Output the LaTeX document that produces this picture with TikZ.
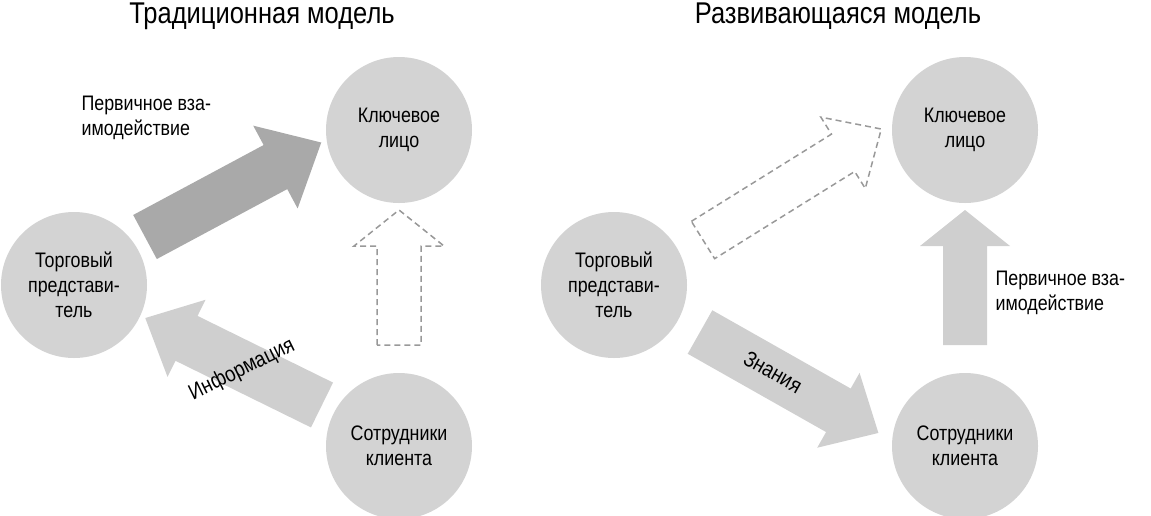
\documentclass[tikz,border=0pt]{standalone}
\usepackage{fontspec}
\setmainfont{Liberation Sans}[FakeStretch=0.85]
\definecolor{circ}{HTML}{D3D3D3}
\definecolor{dark}{HTML}{A9A9A9}
\definecolor{light}{HTML}{CFCFCF}
\tikzset{
  circ/.style={circle,fill=circ,minimum size=146pt,inner sep=0pt,align=center,font=\fontsize{21}{25}\selectfont},
  lbl/.style={align=left,anchor=west,font=\fontsize{21}{25}\selectfont},
  ttl/.style={font=\fontsize{30}{32}\selectfont},
  dsh/.style={draw=gray!80,dashed,line width=1.5pt,dash pattern=on 6pt off 4pt},
}
\newcommand\myarrow[7]{% origin, angle, length, shafthalf, headhalf, headlen, style
\begin{scope}[shift={(#1)},rotate=#2]
\path[#7] (0,-#4)--(#3-#6,-#4)--(#3-#6,-#5)--(#3,0)--(#3-#6,#5)--(#3-#6,#4)--(0,#4)--cycle;
\end{scope}}
\begin{document}
\begin{tikzpicture}[x=1pt,y=-1pt]
\useasboundingbox (0,0) rectangle (1151,515);
\node[ttl] (t1) at (262,16) {Традиционная модель};
\node[ttl] (t2) at (838,16) {Развивающаяся модель};
\node[circ] (k1) at (399,130) {Ключевое\\лицо};
\node[circ] (s1) at (74,285) {Торговый\\представи-\\тель};
\node[circ] (c1) at (399,446) {Сотрудники\\клиента};
\node[circ] (k2) at (965,130) {Ключевое\\лицо};
\node[circ] (s2) at (614,285) {Торговый\\представи-\\тель};
\node[circ] (c2) at (965,446) {Сотрудники\\клиента};
% left
\myarrow{145,237}{28.2}{200}{25}{47}{52}{fill=dark}
\myarrow{399,345}{90}{135}{22}{45}{36}{dsh}
\myarrow{322,405}{153.8}{197}{25}{43}{46}{fill=light}
\node[rotate=26.2,font=\fontsize{22}{26}\selectfont] (inf) at (242,370) {Информация};
\node[lbl] (p1) at (78,118) {Первичное вза-\\имодействие};
% right
\myarrow{703,240}{31.9}{210}{22}{42}{45}{dsh}
\myarrow{700,332}{-29.5}{205}{25}{43}{46}{fill=light}
\node[rotate=-29.5,font=\fontsize{22}{26}\selectfont] (zn) at (773,372) {Знания};
\myarrow{965,345}{90}{135}{22}{45}{36}{fill=light}
\node[lbl] (p2) at (992,293) {Первичное вза-\\имодействие};
\end{tikzpicture}
\end{document}
